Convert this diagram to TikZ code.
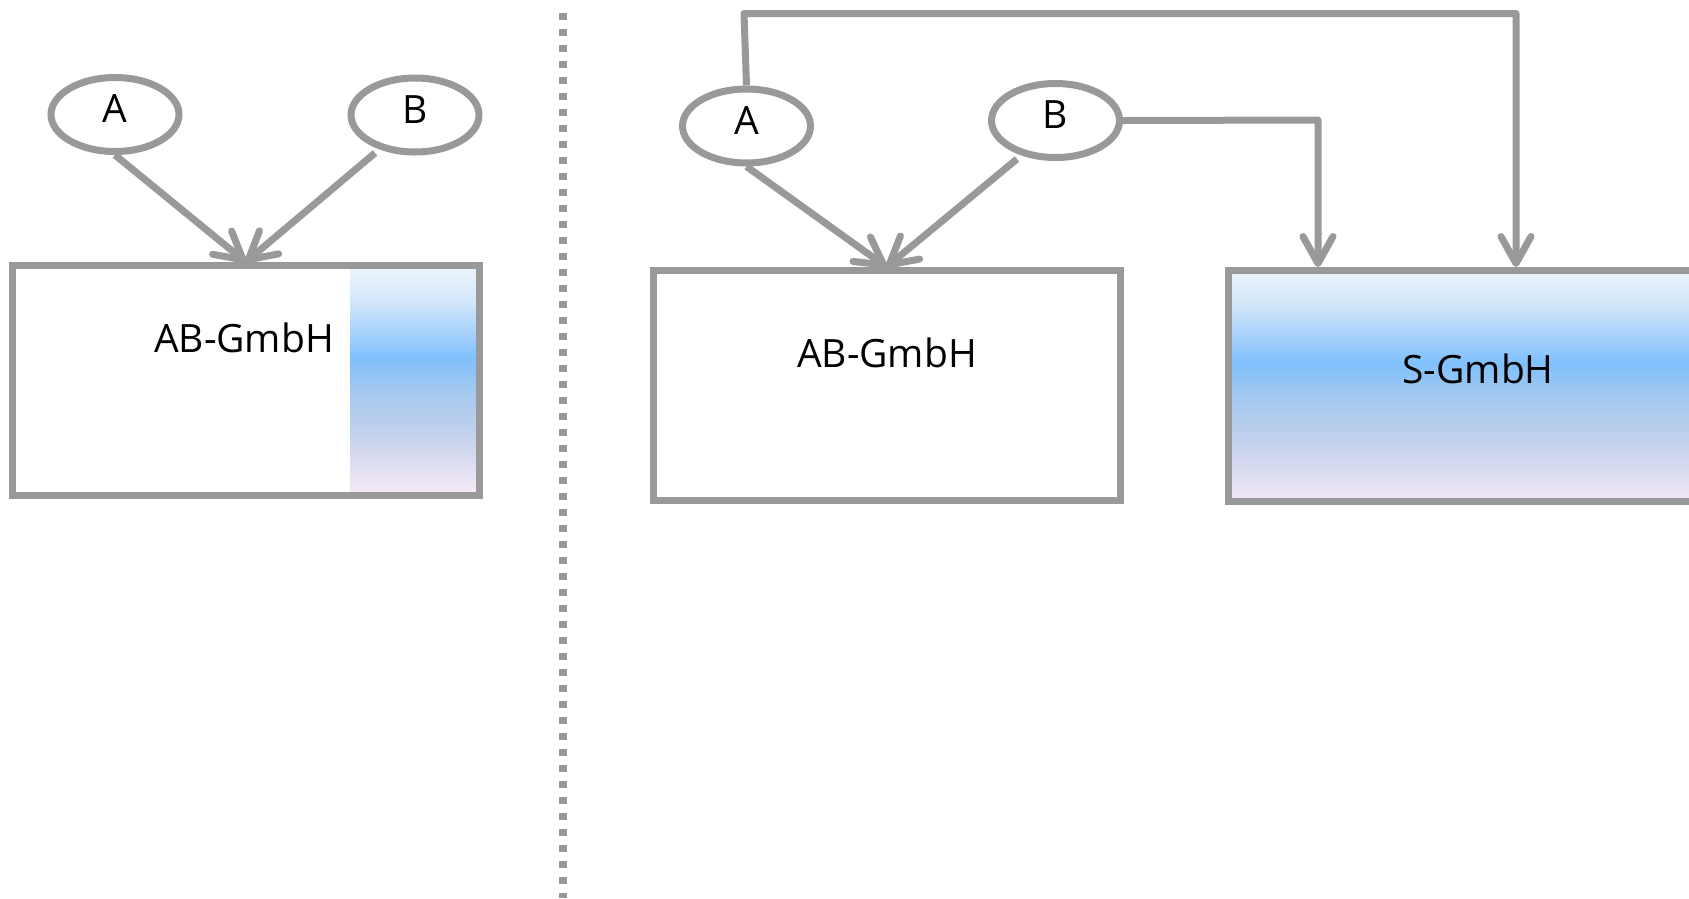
\documentclass[tikz,border=0pt]{standalone}
\usepackage{fontspec}
\setmainfont{Open Sans}
\usetikzlibrary{arrows.meta,shapes.geometric,calc}
\definecolor{linegray}{RGB}{153,153,153}
\pgfdeclareverticalshading{gmbhshade}{100bp}{%
 rgb(0bp)=(0.961,0.910,0.965);
 rgb(25bp)=(0.961,0.910,0.965);
 rgb(37.5bp)=(0.765,0.824,0.922);
 rgb(47.5bp)=(0.647,0.784,0.941);
 rgb(55bp)=(0.502,0.753,0.988);
 rgb(67.5bp)=(0.824,0.902,0.980);
 rgb(75bp)=(0.925,0.957,0.992);
 rgb(100bp)=(0.925,0.957,0.992)}
\begin{document}
\begin{tikzpicture}[x=1pt,y=-1pt,
  every node/.style={font=\fontsize{39pt}{47pt}\selectfont},
  ell/.style={ellipse, draw=linegray, line width=7pt, minimum width=128pt, minimum height=74pt, inner sep=0pt, text depth=11pt},
  box/.style={rectangle, draw=linegray, line width=7pt, inner sep=0pt},
  conn/.style={draw=linegray, line width=7pt, line join=round},
  arr/.style={conn, -{Straight Barb[length=27pt,width=30pt,round]}},
  lbl/.style={inner sep=0pt}]
\useasboundingbox (0,0) rectangle (1689,898);
\clip (0,0) rectangle (1689,898);
\fill[white] (0,0) rectangle (1689,898);

% separator
\draw[linegray, line width=8pt, dash pattern=on 7pt off 9pt] (562.5,13) -- (562.5,898);

% ---------- left part ----------
\shade[shading=gmbhshade] (350,269) rectangle (475.5,491.5);
\node[box, minimum width=466.5pt, minimum height=229.5pt] (ABl) at (245.75,380.25) {};
\node[lbl] (ABltxt) at (244,338) {AB-GmbH};
\node[ell] (Al) at (115,114.5) {A};
\node[ell] (Bl) at (415,115) {B};
\draw[arr] (Al.south) -- (ABl.north);
\draw[arr] ($(Bl.center)+(-40,38)$) -- (ABl.north);

% ---------- right part ----------
\node[box, minimum width=467pt, minimum height=230pt] (ABr) at (886.5,385.5) {};
\node[lbl] (ABrtxt) at (887,353) {AB-GmbH};
\node[box, shading=gmbhshade, minimum width=467pt, minimum height=231pt] (SG) at (1461.5,386) {};
\node[lbl] (SGtxt) at (1478,369) {S-GmbH};
\node[ell] (Ar) at (746.5,126) {A};
\node[ell] (Br) at (1055.5,120.5) {B};
\draw[arr] (Ar.south) -- (ABr.north);
\draw[arr] ($(Br.center)+(-38.5,38.5)$) -- (ABr.north);

\coordinate (t1) at (744,13.5);
\coordinate (t2) at (1516,13.5);
\coordinate (b1) at (1318,120);
\draw[arr] (Ar.north) -- (t1) -- (t2) -- (t2 |- SG.north);
\draw[arr] (Br.east) -- (b1) -- (b1 |- SG.north);
\end{tikzpicture}
\end{document}
